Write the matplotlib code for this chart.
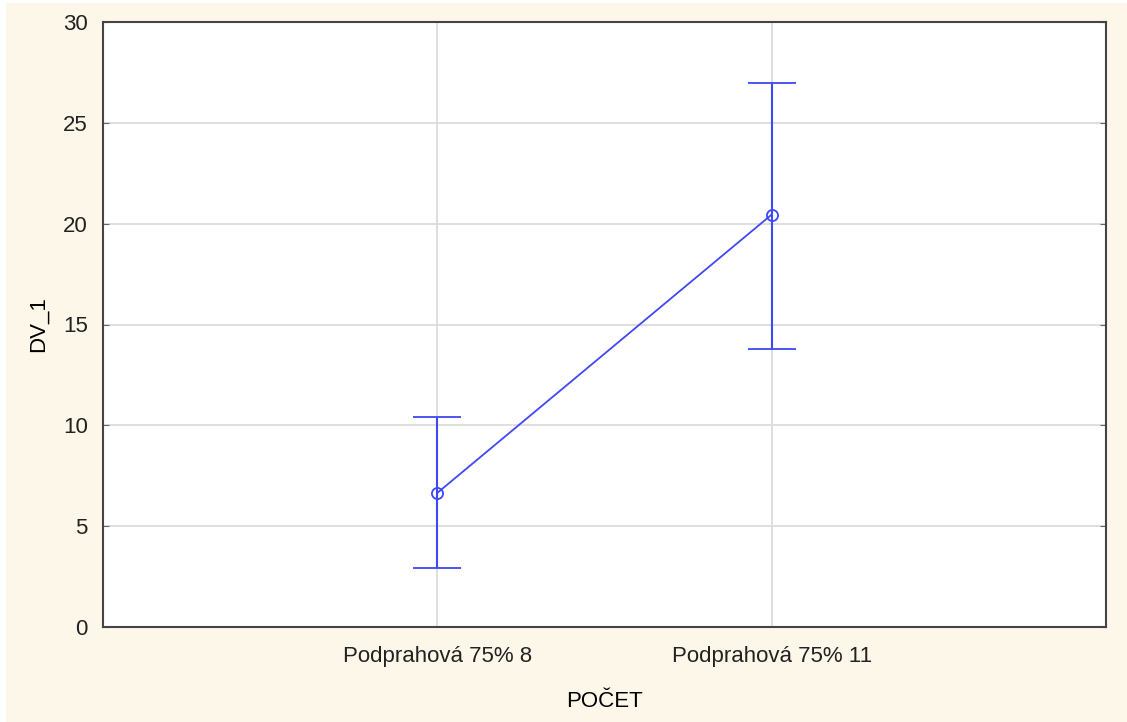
import matplotlib
matplotlib.use("Agg")
import matplotlib.pyplot as plt
from matplotlib.patches import Rectangle

categories = ["Podprahová 75% 8", "Podprahová 75% 11"]
means = [6.65, 20.45]
lower = [2.95, 13.8]
upper = [10.4, 27.0]

plt.rcParams["font.family"] = ["Liberation Sans", "DejaVu Sans"]
plt.rcParams["text.color"] = "#222222"
plt.rcParams["xtick.labelcolor"] = "#222222"
plt.rcParams["ytick.labelcolor"] = "#222222"
fs = 16

fig = plt.figure(figsize=(11.27, 7.22), dpi=100, facecolor="white")
fig.patches.append(Rectangle((6 / 1127, 0), 1 - 6 / 1127, 1 - 3 / 722,
                             transform=fig.transFigure, facecolor="#fdf7ea",
                             edgecolor="none", zorder=-10))
ax = fig.add_axes([103 / 1127, 1 - 627 / 722, (1106 - 103) / 1127, (627 - 22) / 722])
ax.set_facecolor("white")

x = list(range(1, len(categories) + 1))
yerr = [[m - lo for m, lo in zip(means, lower)], [hi - m for m, hi in zip(means, upper)]]
blue = "#3f48f5"
ax.errorbar(x, means, yerr=yerr, color=blue, ecolor=blue, lw=1.3, elinewidth=1.5,
            capsize=17, capthick=1.5, marker="o", ms=8, mfc="none", mec=blue, mew=1.3,
            zorder=3)

ax.set_xlim(0, 3)
ax.set_ylim(0, 30)
ax.set_yticks([0, 5, 10, 15, 20, 25, 30])
ax.set_xticks(x)
ax.set_xticklabels(categories)
ax.grid(True, color="#dcdcdc", lw=1.3)
ax.set_axisbelow(True)

for s in ax.spines.values():
    s.set_color("#444444")
    s.set_linewidth(1.5)
ax.tick_params(axis="y", direction="in", length=4, color="#666666", right=True,
               labelsize=fs, pad=11)
ax.tick_params(axis="x", length=0, labelsize=fs, pad=14)

ax.set_xlabel("POČET", fontsize=fs, labelpad=17)
ax.set_ylabel("DV_1", fontsize=fs, labelpad=10)

fig.savefig("out.png", dpi=100, facecolor=fig.get_facecolor())
